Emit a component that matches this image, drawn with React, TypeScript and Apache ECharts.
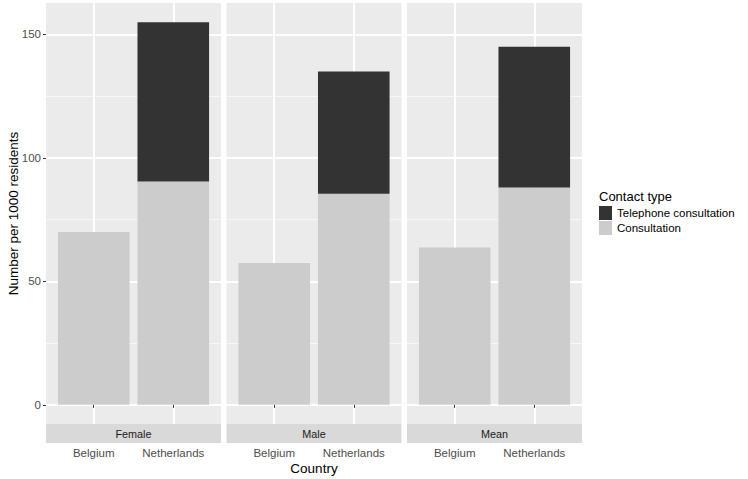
import React, { useEffect, useRef } from 'react';
import * as echarts from 'echarts';

const countries = ['Belgium', 'Netherlands'];
const panels = ['Female', 'Male', 'Mean'];
const consultation = [
  [70, 90.5],
  [57.5, 85.5],
  [63.75, 88],
];
const telephone = [
  [0, 64.5],
  [0, 49.5],
  [0, 57],
];
const yTicks = [0, 50, 100, 150];
const yMinorTicks = [25, 75, 125];
const xTicks = [1, 2];
const seriesNames = ['Telephone consultation', 'Consultation'];
const legendTitle = 'Contact type';
const yTitle = 'Number per 1000 residents';
const xTitle = 'Country';

const FONT = "'Liberation Sans', Arial, sans-serif";
const W = 748;
const H = 479;
const PANEL_TOP = 3;
const PANEL_BOTTOM = 424;
const PANEL_H = PANEL_BOTTOM - PANEL_TOP;
const PANEL_W = 175;
const GAP = 5.5;
const LEFT0 = 46;
const STRIP_H = 19;
const X_MIN = 0.4;
const X_MAX = 2.6;
const COLORS = { Consultation: '#CCCCCC', 'Telephone consultation': '#333333' };

export default function App() {
  const ref = useRef<HTMLDivElement>(null);
  useEffect(() => {
    if (!ref.current) return;
    const chart = echarts.init(ref.current, undefined, { renderer: 'svg' });

    const totals = panels.map((_, i) => countries.map((_, j) => consultation[i][j] + telephone[i][j]));
    const dataMax = Math.max(...totals.flat());
    const yMin = -0.05 * dataMax;
    const yMax = dataMax * 1.05;
    const barWidth = (0.9 * PANEL_W) / (X_MAX - X_MIN);
    const panelLeft = (i: number) => LEFT0 + i * (PANEL_W + GAP);

    const grid = panels.map((_, i) => ({
      left: panelLeft(i),
      top: PANEL_TOP,
      width: PANEL_W,
      height: PANEL_H,
      show: true,
      backgroundColor: '#EBEBEB',
      borderWidth: 0,
    }));

    const xAxis = panels.map((_, i) => ({
      type: 'value',
      gridIndex: i,
      min: X_MIN,
      max: X_MAX,
      offset: STRIP_H,
      axisLine: { show: false },
      axisTick: { show: true, customValues: xTicks, length: 3, lineStyle: { color: '#333333', width: 1 } },
      axisLabel: {
        customValues: xTicks,
        formatter: (v: number) => countries[Math.round(v) - 1],
        color: '#4D4D4D',
        fontSize: 11.5,
        fontFamily: FONT,
        margin: 4,
      },
      splitLine: { show: true, lineStyle: { color: '#FFFFFF', width: 2 } },
    }));

    const yAxis: any[] = [];
    panels.forEach((_, i) => {
      yAxis.push({
        type: 'value',
        gridIndex: i,
        min: yMin,
        max: yMax,
        position: 'left',
        axisLine: { show: false },
        axisTick: { show: i === 0, customValues: yTicks, length: 3, lineStyle: { color: '#333333', width: 1 } },
        axisLabel: {
          show: i === 0,
          customValues: yTicks,
          color: '#4D4D4D',
          fontSize: 11.5,
          fontFamily: FONT,
          margin: 5,
        },
        splitLine: { show: true, lineStyle: { color: '#FFFFFF', width: 2 } },
      });
      yAxis.push({
        type: 'value',
        gridIndex: i,
        min: yMin,
        max: yMax,
        position: 'right',
        axisLine: { show: false },
        axisTick: { show: false, customValues: yMinorTicks },
        axisLabel: { show: false, customValues: yMinorTicks },
        splitLine: { show: true, lineStyle: { color: '#F7F7F7', width: 1 } },
      });
    });

    // data rows are [value, position]; encode puts the stacked value first so that
    // ECharts stacks the y dimension (by index) on a value-type base axis.
    const series: any[] = [];
    panels.forEach((_, i) => {
      series.push({
        type: 'bar',
        name: 'Consultation',
        xAxisIndex: i,
        yAxisIndex: i * 2,
        stack: 'panel' + i,
        barWidth,
        encode: { x: 1, y: 0 },
        data: countries.map((_, j) => [consultation[i][j], xTicks[j]]),
        itemStyle: { color: COLORS['Consultation'] },
      });
      series.push({
        type: 'bar',
        name: 'Telephone consultation',
        xAxisIndex: i,
        yAxisIndex: i * 2,
        stack: 'panel' + i,
        barWidth,
        encode: { x: 1, y: 0 },
        data: countries.map((_, j) => [telephone[i][j], xTicks[j]]),
        itemStyle: { color: COLORS['Telephone consultation'] },
      });
    });

    const graphic: any[] = [];
    panels.forEach((p, i) => {
      graphic.push({
        type: 'rect',
        shape: { x: panelLeft(i), y: PANEL_BOTTOM, width: PANEL_W, height: STRIP_H },
        style: { fill: '#D9D9D9' },
        silent: true,
      });
      graphic.push({
        type: 'text',
        x: panelLeft(i) + PANEL_W / 2,
        y: PANEL_BOTTOM + STRIP_H / 2,
        style: {
          text: p,
          fill: '#1A1A1A',
          font: `10.8px ${FONT}`,
          align: 'center',
          verticalAlign: 'middle',
        },
        silent: true,
      });
    });
    graphic.push({
      type: 'text',
      x: 13,
      y: (PANEL_TOP + PANEL_BOTTOM) / 2,
      rotation: Math.PI / 2,
      style: { text: yTitle, fill: '#000000', font: `13.5px ${FONT}`, align: 'center', verticalAlign: 'middle' },
      silent: true,
    });
    graphic.push({
      type: 'text',
      x: LEFT0 + (3 * PANEL_W + 2 * GAP) / 2,
      y: 468.5,
      style: { text: xTitle, fill: '#000000', font: `13.5px ${FONT}`, align: 'center', verticalAlign: 'middle' },
      silent: true,
    });
    graphic.push({
      type: 'text',
      x: 599,
      y: 196,
      style: { text: legendTitle, fill: '#000000', font: `13px ${FONT}`, align: 'left', verticalAlign: 'middle' },
      silent: true,
    });

    chart.setOption({
      animation: false,
      backgroundColor: '#FFFFFF',
      grid,
      xAxis,
      yAxis,
      series,
      legend: {
        orient: 'vertical',
        left: 599,
        top: 206,
        padding: 0,
        itemWidth: 13,
        itemHeight: 14,
        itemGap: 1,
        icon: 'rect',
        selectedMode: false,
        data: seriesNames,
        textStyle: { fontSize: 11.5, color: '#000000', fontFamily: FONT },
      },
      graphic,
    });
    return () => chart.dispose();
  }, []);
  return <div ref={ref} style={{ position: 'absolute', left: 0, top: 0, width: W, height: H }} />;
}
